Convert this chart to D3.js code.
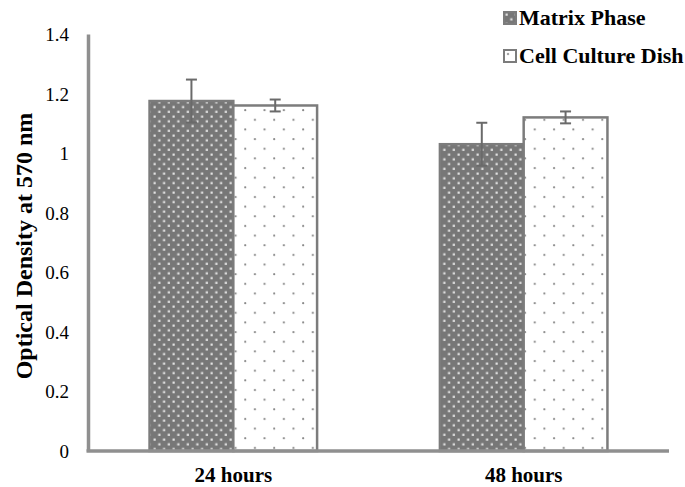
<!DOCTYPE html>
<html>
<head>
<meta charset="utf-8">
<script src="https://cdn.jsdelivr.net/npm/d3@7"></script>
<style>
  body { margin: 0; background: #fff; }
  text { font-family: "Liberation Serif", "Times New Roman", serif; fill: #000; }
</style>
</head>
<body>
<svg width="685" height="487"></svg>
<script>
// chart values
var categories = ["24 hours", "48 hours"];
var seriesNames = ["Matrix Phase", "Cell Culture Dish"];
var matrixValues = [1.175, 1.03];
var matrixErrors = [0.072, 0.072];
var dishValues = [1.16, 1.12];
var dishErrors = [0.02, 0.02];
var yTicks = [0, 0.2, 0.4, 0.6, 0.8, 1, 1.2, 1.4];

var svg = d3.select("svg");
// note: "top" is taken by window.top, so plot edges get their own names
var plotLeft = 88, plotRight = 669, plotTop = 34, plotBottom = 451;

var defs = svg.append("defs");

// dense white dots on grey
var pDark = defs.append("pattern")
  .attr("id", "dark")
  .attr("patternUnits", "userSpaceOnUse")
  .attr("width", 9.5).attr("height", 9.5);
pDark.append("rect").attr("width", 9.5).attr("height", 9.5).attr("fill", "#777");
pDark.append("rect").attr("x", 1.5).attr("y", 1.5).attr("width", 2.2).attr("height", 2.2).attr("fill", "#e4e4e4");
pDark.append("rect").attr("x", 6.25).attr("y", 6.25).attr("width", 2.2).attr("height", 2.2).attr("fill", "#e4e4e4");

// sparse grey dots on white
var pLight = defs.append("pattern")
  .attr("id", "light")
  .attr("patternUnits", "userSpaceOnUse")
  .attr("width", 19.3).attr("height", 19.3);
pLight.append("rect").attr("width", 19.3).attr("height", 19.3).attr("fill", "#fff");
pLight.append("circle").attr("cx", 4).attr("cy", 4).attr("r", 1.1).attr("fill", "#888");
pLight.append("circle").attr("cx", 13.65).attr("cy", 13.65).attr("r", 1.1).attr("fill", "#888");

var fills = ["url(#dark)", "url(#light)"];

var x0 = d3.scaleBand()
  .domain(categories)
  .range([plotLeft, plotRight])
  .paddingInner(0.423)
  .paddingOuter(0.212);

var x1 = d3.scaleBand()
  .domain(seriesNames)
  .range([0, x0.bandwidth()]);

var y = d3.scaleLinear().domain([0, 1.4]).range([plotBottom, plotTop]);

var rows = [];
categories.forEach(function(c, i) {
  rows.push({ cat: c, series: seriesNames[0], value: matrixValues[i], err: matrixErrors[i], k: 0 });
  rows.push({ cat: c, series: seriesNames[1], value: dishValues[i], err: dishErrors[i], k: 1 });
});

// bars
svg.append("g").selectAll("rect")
  .data(rows)
  .enter().append("rect")
  .attr("x", function(d) { return x0(d.cat) + x1(d.series); })
  .attr("y", function(d) { return y(d.value); })
  .attr("width", x1.bandwidth())
  .attr("height", function(d) { return y(0) - y(d.value); })
  .attr("fill", function(d) { return fills[d.k]; })
  .attr("stroke", "#7c7c7c")
  .attr("stroke-width", 2.5);

// error bars
var eb = svg.append("g").attr("stroke", "#6a6a6a").attr("stroke-width", 2);
rows.forEach(function(d) {
  var cx = x0(d.cat) + x1(d.series) + x1.bandwidth() / 2;
  var y1 = y(d.value + d.err), y2 = y(d.value - d.err);
  eb.append("line").attr("x1", cx).attr("x2", cx).attr("y1", y1).attr("y2", y2);
  eb.append("line").attr("x1", cx - 5.5).attr("x2", cx + 5.5).attr("y1", y1).attr("y2", y1);
  eb.append("line").attr("x1", cx - 5.5).attr("x2", cx + 5.5).attr("y1", y2).attr("y2", y2);
});

// axes
var yAxis = svg.append("g")
  .attr("transform", "translate(" + plotLeft + ",0)")
  .call(d3.axisLeft(y).tickValues(yTicks).tickSize(0).tickPadding(19)
    .tickFormat(function(d) { return String(+d.toFixed(1)); }));
yAxis.select(".domain").attr("stroke", "#8f8f8f").attr("stroke-width", 3.5);
yAxis.selectAll("text")
  .style("font-family", "Liberation Serif, serif")
  .style("font-size", "19px")
  .attr("dy", "0.34em");

var xAxis = svg.append("g")
  .attr("transform", "translate(0," + plotBottom + ")")
  .call(d3.axisBottom(x0).tickSize(0).tickPadding(20));
xAxis.select(".domain").attr("stroke", "#8f8f8f").attr("stroke-width", 3.5)
  .attr("d", "M" + (plotLeft - 1.5) + ",0H" + plotRight);
xAxis.selectAll("text")
  .style("font-family", "Liberation Serif, serif")
  .style("font-size", "21px")
  .style("font-weight", "bold")
  .attr("dy", "0.52em");

// y axis title
svg.append("text")
  .attr("transform", "translate(32,246) rotate(-90)")
  .attr("text-anchor", "middle")
  .style("font-size", "24px")
  .style("font-weight", "bold")
  .text("Optical Density at 570 nm");

// legend
var legend = svg.append("g").attr("transform", "translate(504,12)");
seriesNames.forEach(function(s, i) {
  var g = legend.append("g").attr("transform", "translate(0," + (i * 38) + ")");
  g.append("rect")
    .attr("width", 12).attr("height", 12)
    .attr("fill", fills[i])
    .attr("stroke", "#7c7c7c")
    .attr("stroke-width", 2);
  g.append("text")
    .attr("x", 15).attr("y", 13)
    .style("font-size", "22px")
    .style("font-weight", "bold")
    .text(s);
});
</script>
</body>
</html>
